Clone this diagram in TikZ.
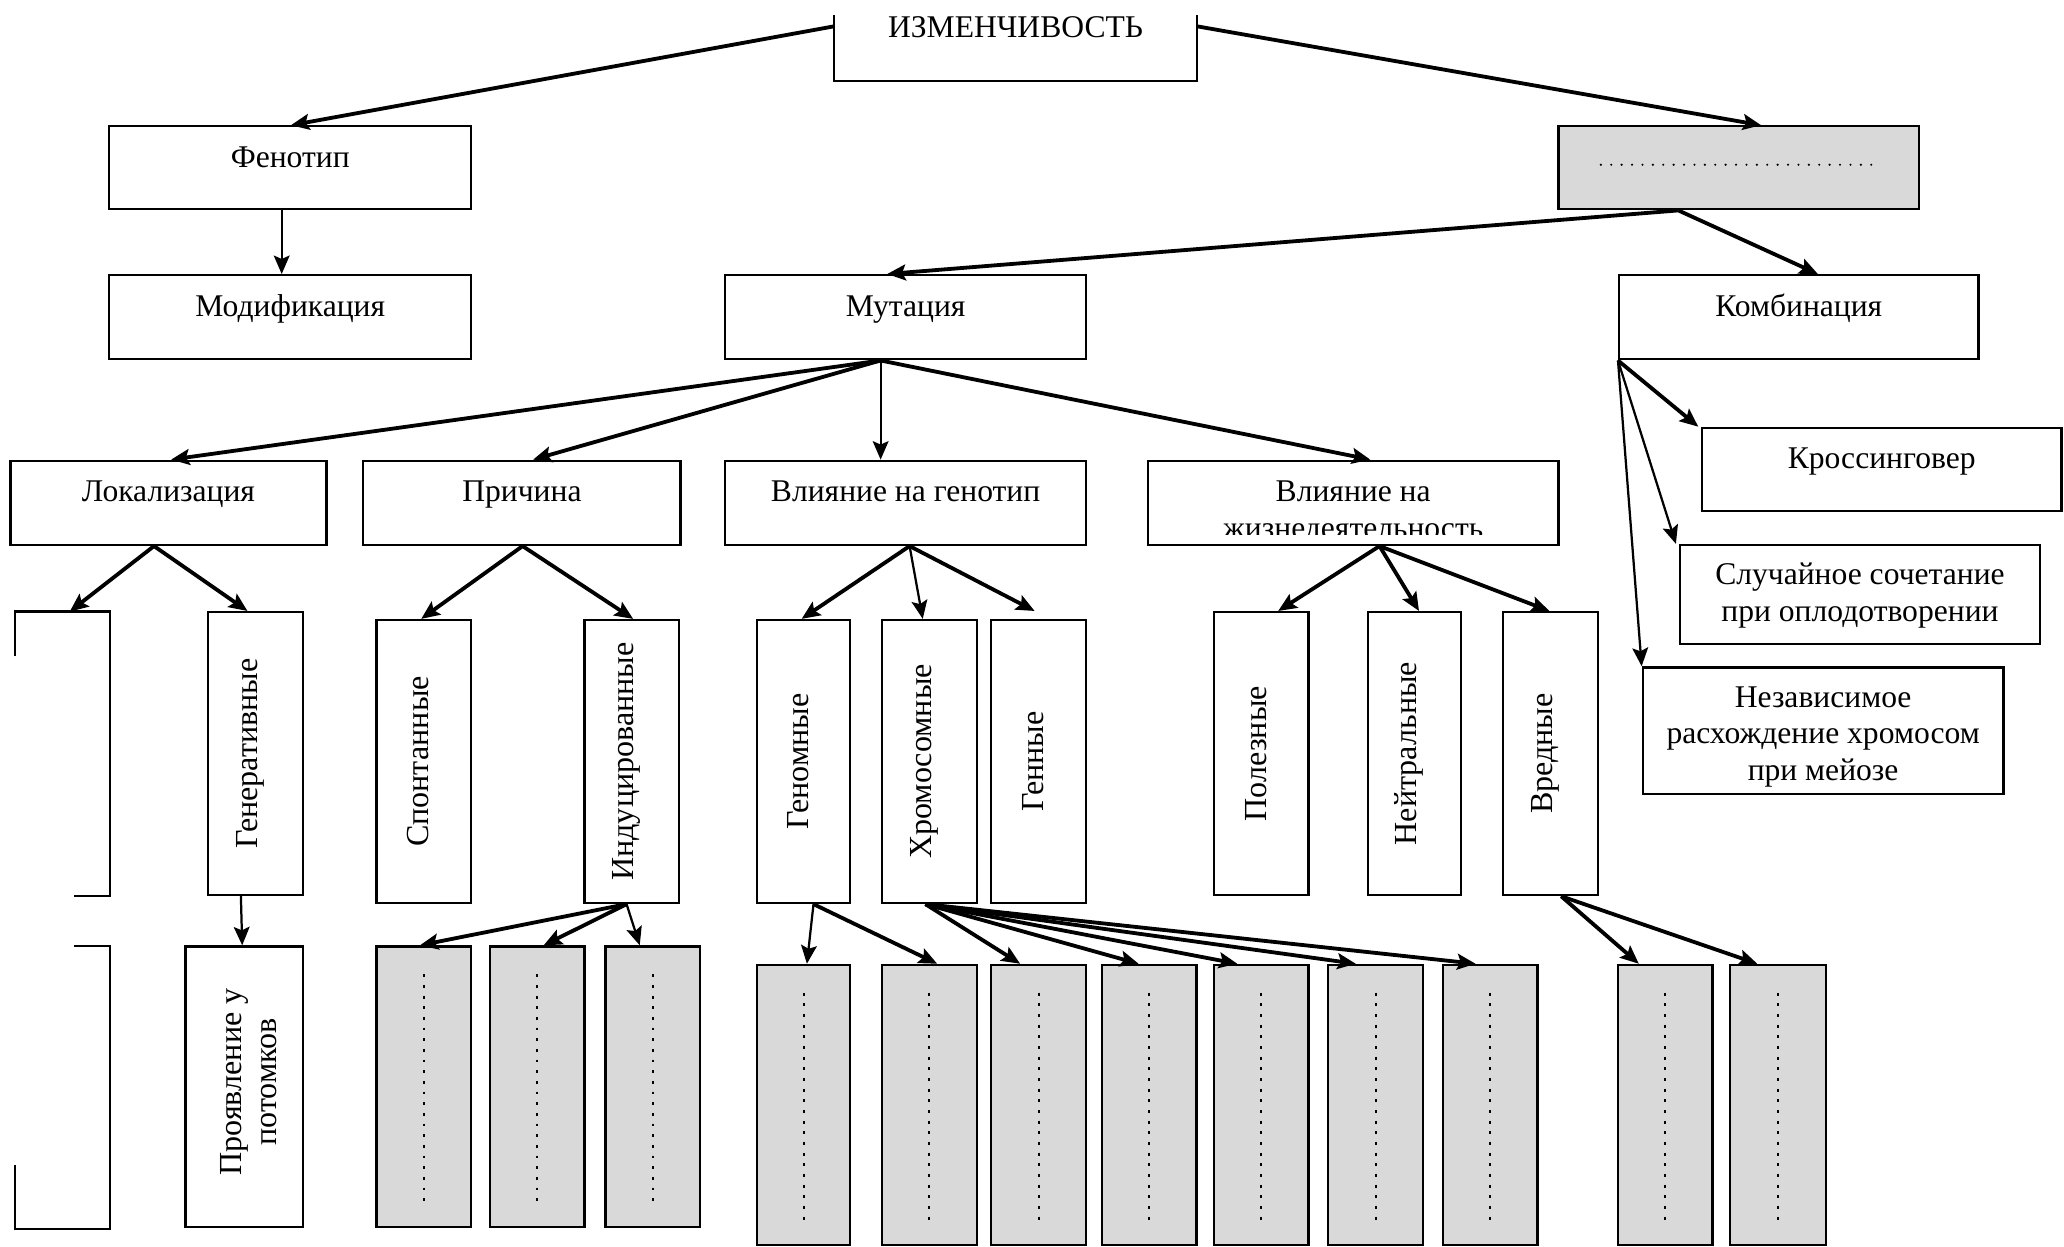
\documentclass[tikz,border=0pt]{standalone}
\usepackage{fontspec}
\setmainfont{Liberation Serif}
\usetikzlibrary{arrows.meta,fit,calc}

\begin{document}
\begin{tikzpicture}[x=0.5pt,y=-0.5pt,
  box/.style={draw=black, line width=0.85pt, inner sep=0pt, fill=white},
  shaded/.style={box, fill=gray!30},
  openfit/.style={inner sep=0pt},
  outline/.style={draw=black, line width=0.85pt},
  arr/.style={-{Stealth[length=7pt,width=6pt,inset=1.3pt]}, line width=1.45pt},
  arrlight/.style={arr, line width=0.85pt},
  lbl/.style={font=\fontsize{12}{14}\selectfont, inner sep=0pt, anchor=base, align=center},
  vlbl/.style={font=\fontsize{12.2}{13.3}\selectfont, inner sep=0pt, rotate=90, align=center},
  dotline/.style={line width=0.9pt, line cap=round, dash pattern=on 0pt off 3.95pt},
  tickline/.style={line width=0.75pt, dash pattern=on 1.1pt off 2.95pt}
]
\fill[white] (0,0) rectangle (1568,947);
\useasboundingbox (0,0) rectangle (1568,947);

% ---------- top: variability ----------
\node[openfit, fit={(634,12) (909,61)}] (izm) {};
\draw[outline] (izm.north west) -- (izm.south west) -- (izm.south east) -- (izm.north east);
\node[lbl] (izm-t) at ([yshift=-8.6pt]izm.north) {ИЗМЕНЧИВОСТЬ};

% ---------- level 1 ----------
\node[box, fit={(83,96) (358,159)}] (fen) {};
\node[lbl] (fen-t) at ([yshift=-16pt]fen.north) {Фенотип};
\node[shaded, fit={(1184,96) (1458,159)}] (gen) {};
\draw[dotline] ([xshift=16.5pt,yshift=-15pt]gen.north west) -- ([xshift=-16.5pt,yshift=-15pt]gen.north east);

% ---------- level 2 ----------
\node[box, fit={(83,209) (358,273)}] (mod) {};
\node[lbl] (mod-t) at ([yshift=-16pt]mod.north) {Модификация};
\node[box, fit={(551,209) (825,273)}] (mut) {};
\node[lbl] (mut-t) at ([yshift=-16pt]mut.north) {Мутация};
\node[box, fit={(1230,209) (1503,273)}] (komb) {};
\node[lbl] (komb-t) at ([yshift=-16pt]komb.north) {Комбинация};

% ---------- kinds of combination ----------
\node[box, fit={(1293,325) (1566,388)}] (cross) {};
\node[lbl] (cross-t) at ([yshift=-16pt]cross.north) {Кроссинговер};
\node[box, fit={(1276,414) (1550,489)}] (rand) {};
\node[lbl] (rand-t) at ([yshift=-29.5pt]rand.north) {Случайное сочетание\\при оплодотворении};
\node[box, fit={(1248,507) (1522,603)}] (indep) {};
\node[lbl] (indep-t) at ([yshift=-43.5pt]indep.north) {Независимое\\расхождение хромосом\\при мейозе};

% ---------- level 3: classification of mutations ----------
\node[box, fit={(8,350) (248,414)}] (loc) {};
\node[lbl] (loc-t) at ([yshift=-16pt]loc.north) {Локализация};
\node[box, fit={(276,350) (517,414)}] (cause) {};
\node[lbl] (cause-t) at ([yshift=-16pt]cause.north) {Причина};
\node[box, fit={(551,350) (825,414)}] (geno) {};
\node[lbl] (geno-t) at ([yshift=-16pt]geno.north) {Влияние на генотип};
\node[box, fit={(872,350) (1184,414)}] (life) {};
\node[lbl] (life-t) at ([yshift=-16pt]life.north) {Влияние на};
\begin{scope}
  \clip (872,350) rectangle (1184,406);
  \node[lbl] (life-t2) at ([yshift=-30pt]life.north) {жизнедеятельность};
\end{scope}

% ---------- level 4 ----------
\node[openfit, fit={(12,465) (83,680)}] (blank1) {};
\draw[outline] ([yshift=-17pt]blank1.north west) -- (blank1.north west) -- (blank1.north east)
  -- (blank1.south east) -- ([xshift=-13.5pt]blank1.south east);
\node[box, fit={(158,465) (230,680)}] (gener) {};
\node[vlbl] (gener-t) at ([xshift=-1.8pt]gener.center) {Генеративные};
\node[box, fit={(286,471) (358,686)}] (spont) {};
\node[vlbl] (spont-t) at ([xshift=-2.2pt]spont.center) {Спонтанные};
\node[box, fit={(444,471) (516,686)}] (induc) {};
\node[vlbl] (induc-t) at ([xshift=-2pt]induc.center) {Индуцированные};
\node[box, fit={(575,471) (646,686)}] (genom) {};
\node[vlbl] (genom-t) at ([xshift=-2pt]genom.center) {Геномные};
\node[box, fit={(670,471) (742,686)}] (chrom) {};
\node[vlbl] (chrom-t) at ([xshift=-2pt]chrom.center) {Хромосомные};
\node[box, fit={(753,471) (825,686)}] (gene) {};
\node[vlbl] (gene-t) at ([xshift=-2pt]gene.center) {Генные};
\node[box, fit={(922,465) (994,680)}] (useful) {};
\node[vlbl] (useful-t) at ([xshift=-2pt]useful.center) {Полезные};
\node[box, fit={(1039,465) (1110,680)}] (neutral) {};
\node[vlbl] (neutral-t) at ([xshift=-2pt]neutral.center) {Нейтральные};
\node[box, fit={(1142,465) (1214,680)}] (harm) {};
\node[vlbl] (harm-t) at ([xshift=-2pt]harm.center) {Вредные};

% ---------- level 5 ----------
\node[openfit, fit={(12,719) (83,933)}] (blank2) {};
\draw[outline] ([xshift=-13.5pt]blank2.north east) -- (blank2.north east) -- (blank2.south east)
  -- (blank2.south west) -- ([yshift=24pt]blank2.south west);
\node[box, fit={(141,719) (230,932)}] (offs) {};
\node[vlbl] (offs-t) at ([xshift=1.75pt,yshift=1.75pt]offs.center) {Проявление у\\потомков};

\node[shaded, fit={(286,719) (358,932)}] (i1) {};
\node[shaded, fit={(372,719) (444,932)}] (i2) {};
\node[shaded, fit={(460,719) (532,932)}] (i3) {};
\foreach \b in {i1,i2,i3}
  \draw[tickline] ([yshift=-11pt]\b.north) -- ([yshift=9.5pt]\b.south);

\node[shaded, fit={(575,733) (646,946)}] (g1) {};
\node[shaded, fit={(670,733) (742,946)}] (g2) {};
\node[shaded, fit={(753,733) (825,946)}] (g3) {};
\node[shaded, fit={(837,733) (909,946)}] (g4) {};
\node[shaded, fit={(922,733) (994,946)}] (g5) {};
\node[shaded, fit={(1009,733) (1081,946)}] (g6) {};
\node[shaded, fit={(1096,733) (1168,946)}] (g7) {};
\node[shaded, fit={(1229,733) (1301,946)}] (g8) {};
\node[shaded, fit={(1314,733) (1387,946)}] (g9) {};
\foreach \b in {g1,g2,g3,g4,g5,g6,g7,g8,g9}
  \draw[tickline] ([yshift=-11pt]\b.north) -- ([yshift=10pt]\b.south);

% ---------- connectors ----------
\draw[arr] (izm.west |- 0,20) -- (221,0 |- fen.north);
\draw[arr] (izm.east |- 0,20) -- (1338,0 |- gen.north);
\draw[arrlight] (214,0 |- fen.south) -- (214,0 |- mod.north);
\draw[arr] (1275,0 |- gen.south) -- (674,0 |- mut.north);
\draw[arr] (1275,0 |- gen.south) -- (1381,0 |- komb.north);

\draw[arr] (669,0 |- mut.south) -- (130,0 |- loc.north);
\draw[arr] (669,0 |- mut.south) -- (405,0 |- cause.north);
\draw[arrlight] (669,0 |- mut.south) -- (669,0 |- geno.north);
\draw[arr] (669,0 |- mut.south) -- (1041,0 |- life.north);

\draw[arr] (komb.south west) -- ([xshift=-1pt]cross.north west);
\draw[arrlight] (komb.south west) -- ([xshift=-1pt]rand.north west);
\draw[arrlight] (komb.south west) -- (indep.north west);

\draw[arr] (117,0 |- loc.south) -- (53,0 |- blank1.north);
\draw[arr] (117,0 |- loc.south) -- (188,0 |- gener.north);
\draw[arr] (397,0 |- cause.south) -- (320,0 |- spont.north);
\draw[arr] (397,0 |- cause.south) -- (481,0 |- induc.north);
\draw[arr] (691,0 |- geno.south) -- (609,0 |- genom.north);
\draw[arrlight] (691,0 |- geno.south) -- (701,0 |- chrom.north);
\draw[arr] (691,0 |- geno.south) -- ($(786,0 |- gene.north)+(0,-6)$);
\draw[arr] (1048,0 |- life.south) -- (971,0 |- useful.north);
\draw[arr] (1048,0 |- life.south) -- (1078,0 |- neutral.north);
\draw[arr] (1048,0 |- life.south) -- (1177,0 |- harm.north);

\draw[arrlight] (183,0 |- gener.south) -- (184,0 |- offs.north);
\draw[arr] (476,0 |- induc.south) -- (319,0 |- i1.north);
\draw[arr] (476,0 |- induc.south) -- (413,0 |- i2.north);
\draw[arrlight] (476,0 |- induc.south) -- (486,0 |- i3.north);
\draw[arrlight] (618,0 |- genom.south) -- (613,0 |- g1.north);
\draw[arr] (618,0 |- genom.south) -- (712,0 |- g2.north);
\draw[arr] (703,0 |- chrom.south) -- (775,0 |- g3.north);
\draw[arr] (703,0 |- chrom.south) -- (865,0 |- g4.north);
\draw[arr] (703,0 |- chrom.south) -- (940,0 |- g5.north);
\draw[arr] (703,0 |- chrom.south) -- (1030,0 |- g6.north);
\draw[arr] (703,0 |- chrom.south) -- (1121,0 |- g7.north);
\draw[arr] (1186,0 |- harm.south) -- (1245,0 |- g8.north);
\draw[arr] (1186,0 |- harm.south) -- (1335,0 |- g9.north);
\end{tikzpicture}
\end{document}
